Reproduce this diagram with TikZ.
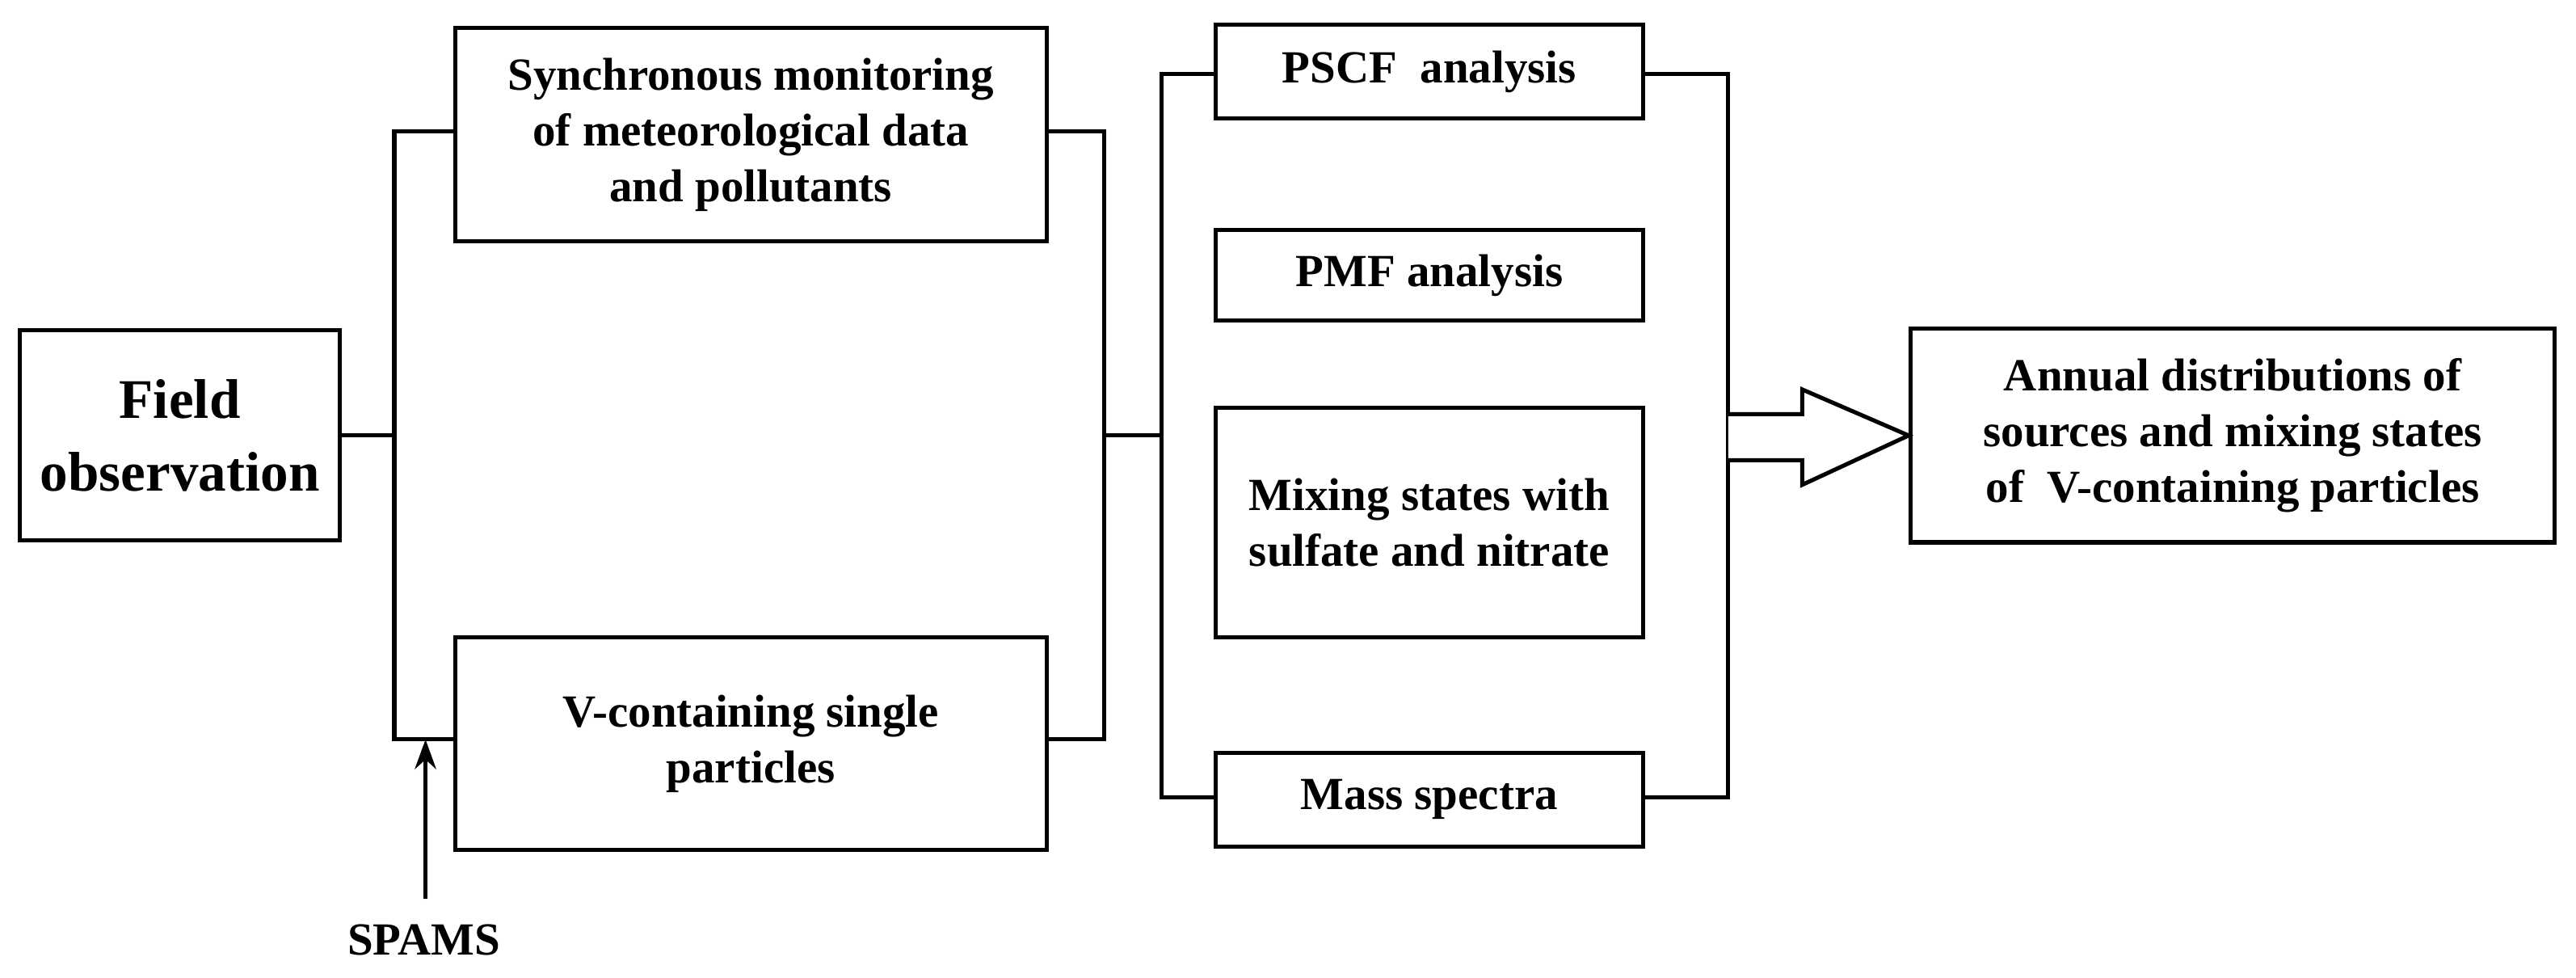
\documentclass[tikz,border=0pt]{standalone}
\usepackage{fontspec}
\setmainfont{Liberation Serif}
\usetikzlibrary{positioning,arrows.meta}
\begin{document}
\begin{tikzpicture}[x=1pt,y=-1pt,
 box/.style={draw,line width=2.5pt,align=center,font=\bfseries\fontsize{28}{34}\selectfont,inner sep=0pt},
 ln/.style={line width=2.5pt}]
\useasboundingbox (0,0) rectangle (1568,595);
\node[box,minimum width=195pt,minimum height=128pt,font=\bfseries\fontsize{34}{44}\selectfont] (f) at (109.5,265) {Field\\observation};
\node[box,minimum width=360pt,minimum height=130pt] (s) at (457,82) {Synchronous monitoring\\of meteorological data\\and pollutants};
\node[box,minimum width=360pt,minimum height=129pt] (v) at (457,452.5) {V-containing single\\particles};
\node[box,minimum width=260pt,minimum height=57pt] (p) at (870,43.5) {PSCF\ \ analysis};
\node[box,minimum width=260pt,minimum height=55pt] (m) at (870,167.5) {PMF analysis};
\node[box,minimum width=260pt,minimum height=140pt] (x) at (870,318) {Mixing states with\\sulfate and nitrate};
\node[box,minimum width=260pt,minimum height=57pt] (ms) at (870,486.5) {Mass spectra};
\node[box,minimum width=392pt,minimum height=130pt] (a) at (1359,265) {Annual distributions of\\sources and mixing states\\of\ \ V-containing particles};
\node[font=\bfseries\fontsize{28}{32}\selectfont] (sp) at (258,572) {SPAMS};
\coordinate (j1) at (240,265);
\draw[ln] (f.east) -- (j1);
\draw[ln] (s.west|-0,80) -- (240,80) -- (240,450) -- (v.west|-0,450);
\draw[ln,-{Stealth[length=18pt,width=13pt]}] (259,547) -- (259,450);
\draw[ln] (s.east|-0,80) -- (672,80) -- (672,450) -- (v.east|-0,450);
\draw[ln] (672,265) -- (707,265);
\draw[ln] (p.west|-0,45) -- (707,45) -- (707,485) -- (ms.west|-0,485);
\draw[ln] (p.east|-0,45) -- (1052,45) -- (1052,485) -- (ms.east|-0,485);
\draw[ln,fill=white] (1052,252) -- (1097,252) -- (1097,237) -- (a.west) -- (1097,295) -- (1097,280) -- (1052,280);
\end{tikzpicture}
\end{document}
